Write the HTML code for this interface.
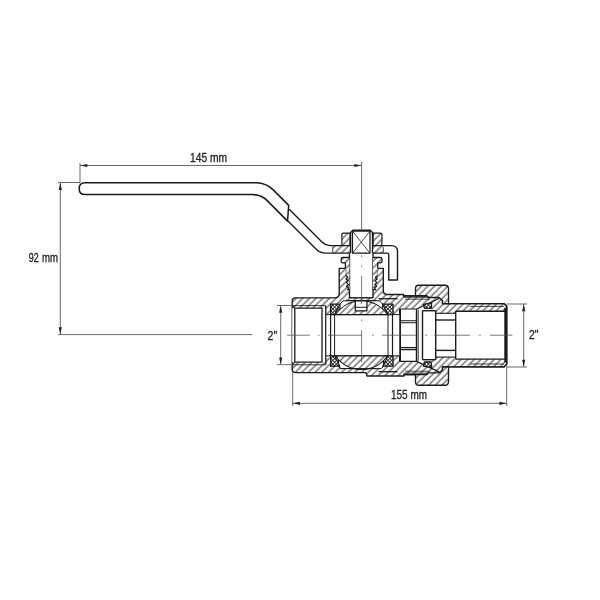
<!DOCTYPE html>
<html><head><meta charset="utf-8">
<style>
html,body{margin:0;padding:0;background:#fff;width:600px;height:600px;overflow:hidden}
svg{display:block;filter:grayscale(1)}
text{font-family:"Liberation Sans",sans-serif}
</style></head>
<body>
<svg width="600" height="600" viewBox="0 0 600 600" stroke-linejoin="round">
<defs>
<pattern id="h" width="4.7" height="10" patternUnits="userSpaceOnUse" patternTransform="rotate(45)">
<rect x="-1" y="-1" width="7" height="12" fill="#fff"/>
<line x1="2" y1="-1" x2="2" y2="11" stroke="#333" stroke-width="1.0"/>
</pattern>
<pattern id="x" width="2.6" height="2.6" patternUnits="userSpaceOnUse" patternTransform="rotate(45)">
<rect x="-1" y="-1" width="5" height="5" fill="#fff"/>
<line x1="1.3" y1="-1" x2="1.3" y2="3.6" stroke="#222" stroke-width="0.9"/>
<line x1="-1" y1="1.3" x2="3.6" y2="1.3" stroke="#222" stroke-width="0.9"/>
</pattern>
</defs>
<rect width="600" height="600" fill="#fff"/>
<path d="M292.2,300.8 Q292.2,297.8 295.2,297.8 H335 Q339.2,297.8 339.2,293.6 V268.3 H383.3 V290.5 Q383.3,294.5 387.3,294.5 H403.5 V296 H442.5 V303.6 H504.2 L506.7,306.3 V364.1 L504.2,366.8 H442.5 V374.5 H404 V376 H367 L366,372.6 H295.2 Q292.2,372.6 292.2,369.6 Z" fill="url(#h)" stroke="none" stroke-width="0" />
<path d="M345.4,268.3 H339.2 V293.6 Q339.2,297.8 335,297.8 H295.2 Q292.2,297.8 292.2,300.8 V369.6 Q292.2,372.6 295.2,372.6 H366 L367,376 H404 V374.5 H442.5 V366.8 H504.2 L506.7,364.1 V306.3 L504.2,303.6 H442.5 V296 H403.5 V294.5 H387.3 Q383.3,294.5 383.3,290.5 V268.3 H377.7" fill="none" stroke="#1a1a1a" stroke-width="1.35" />
<path d="M349.5,253.1 H373 V298 H349.5 Z" fill="#fff" stroke="none" stroke-width="0" />
<path d="M292.2,308.2 H325.8 V362.2 H292.2 Z" fill="#fff" stroke="none" stroke-width="0" />
<path d="M292.2,305.6 H325.8 M292.2,364.8 H325.8" fill="none" stroke="#1a1a1a" stroke-width="0.9" />
<path d="M292.2,305.6 L294.8,308.2 M292.2,364.8 L294.8,362.2" fill="none" stroke="#1a1a1a" stroke-width="1.1" />
<path d="M325.8,305.75 V364.65" fill="none" stroke="#1a1a1a" stroke-width="1.3" />
<path d="M294.8,362.2 V308.2 H322 V362.2 H294.8" fill="none" stroke="#1a1a1a" stroke-width="1.3" />
<path d="M325.8,314.6 H399.6 V355.8 H325.8 Z" fill="#fff" stroke="#1a1a1a" stroke-width="1.0" />
<path d="M340,304 L343,300.8 H379.5 L382.5,304 V314 H340 Z" fill="#fff" stroke="#1a1a1a" stroke-width="1.0" />
<path d="M338.5,356 V366.5 L341,368.6 H381 L383.5,366.5 V356 Z" fill="#fff" stroke="#1a1a1a" stroke-width="1.0" />
<path d="M335.4,314.6 A31.8,31.8 0 0 1 387.6,314.6 Z" fill="url(#h)" stroke="#1a1a1a" stroke-width="1.2" />
<path d="M 335.4,355.8 A 31.8,31.8 0 0 0 387.6,355.8 Z" fill="url(#h)" stroke="#1a1a1a" stroke-width="1.2" />
<path d="M355.3,300.8 H366.9 V310.8 H355.3 Z" fill="#fff" stroke="#1a1a1a" stroke-width="1.3" />
<path d="M355.3,307.3 H366.9" fill="none" stroke="#1a1a1a" stroke-width="1.0" />
<path d="M346,300.5 H376.5" fill="none" stroke="#1a1a1a" stroke-width="0.9" />
<path d="M349.5,297.8 H373" fill="none" stroke="#1a1a1a" stroke-width="1.4" />
<path d="M330.6,304.2 H339.8 L334.7,314.6 H330.6 Z" fill="url(#x)" stroke="#1a1a1a" stroke-width="1.2" />
<path d="M 330.6,366.2 H 339.8 L 334.7,355.8 H 330.6 Z" fill="url(#x)" stroke="#1a1a1a" stroke-width="1.2" />
<path d="M393.1,304.2 H382.6 L388,314.6 H393.1 Z" fill="url(#x)" stroke="#1a1a1a" stroke-width="1.2" />
<path d="M 393.1,366.2 H 382.6 L 388,355.8 H 393.1 Z" fill="url(#x)" stroke="#1a1a1a" stroke-width="1.2" />
<path d="M330.6,314.6 V303.8" fill="none" stroke="#1a1a1a" stroke-width="1.2" />
<path d="M 330.6,355.8 V 366.6" fill="none" stroke="#1a1a1a" stroke-width="1.2" />
<path d="M330.6,314.6 V355.8" fill="none" stroke="#1a1a1a" stroke-width="1.2" />
<path d="M334.6,314.6 V355.8" fill="none" stroke="#1a1a1a" stroke-width="1.0" />
<path d="M388,314.6 V355.8" fill="none" stroke="#1a1a1a" stroke-width="1.0" />
<path d="M392.5,314.6 V355.8" fill="none" stroke="#1a1a1a" stroke-width="1.2" />
<path d="M338.5,366.5 L341,368.6 H376" fill="none" stroke="#1a1a1a" stroke-width="1.0" />
<path d="M349.5,253.1 V298 M373,253.1 V298" fill="none" stroke="#1a1a1a" stroke-width="1.35" />
<path d="M341.25,259 Q341.25,257.5 342.75,257.5 H349.5 V289.6 H345.4 V262.9 H342.75 Q341.25,262.9 341.25,261.4 Z" fill="url(#h)" stroke="none" stroke-width="0" />
<path d="M381.9,259 Q381.9,257.5 380.4,257.5 H373 V289.6 H377.7 V262.9 H380.4 Q381.9,262.9 381.9,261.4 Z" fill="url(#h)" stroke="none" stroke-width="0" />
<path d="M345.4,268.3 V262.9 H342.75 Q341.25,262.9 341.25,261.4 V259 Q341.25,257.5 342.75,257.5 H349.5" fill="none" stroke="#1a1a1a" stroke-width="1.3" />
<path d="M377.7,268.3 V262.9 H380.4 Q381.9,262.9 381.9,261.4 V259 Q381.9,257.5 380.4,257.5 H373" fill="none" stroke="#1a1a1a" stroke-width="1.3" />
<path d="M345.6,275.5 L347.8,277.2 L346,279 L348.3,280.8 L346.3,282.6 L348.5,284.4 L346.5,286.2 L348.7,288 L347.5,289.6 H349.5" fill="none" stroke="#1a1a1a" stroke-width="1.2" />
<path d="M377.6,275.5 L375.4,277.2 L377.2,279 L374.9,280.8 L376.9,282.6 L374.7,284.4 L376.7,286.2 L374.5,288 L375.7,289.6 H373" fill="none" stroke="#1a1a1a" stroke-width="1.2" />
<path d="M346,270 V275.5 M377.2,270 V275.5" fill="none" stroke="#555" stroke-width="0.7" />
<path d="M341.9,234.6 Q341.9,233.1 343.4,233.1 H350 V245.6 H343.4 Q341.9,245.6 341.9,244.1 Z" fill="url(#h)" stroke="#1a1a1a" stroke-width="1.2" />
<path d="M381.9,234.6 Q381.9,233.1 380.4,233.1 H373.1 V245.6 H380.4 Q381.9,245.6 381.9,244.1 Z" fill="url(#h)" stroke="#1a1a1a" stroke-width="1.2" />
<path d="M333,245.6 H350 V253.1 H333 Z" fill="url(#h)" stroke="none" stroke-width="0" />
<path d="M373,245.6 H382.5 V253.1 H373 Z" fill="url(#h)" stroke="none" stroke-width="0" />
<path d="M350.6,253.1 V232.5 L352.8,230.25 H370.3 L372.5,232.5 V253.1" fill="#fff" stroke="#1a1a1a" stroke-width="1.35" />
<path d="M383,246.5 Q384,250 383,253" fill="none" stroke="#1a1a1a" stroke-width="0.8" />
<path d="M333,246.5 Q332,250 333,253" fill="none" stroke="#1a1a1a" stroke-width="0.8" />
<path d="M352.5,231.25 H370 V253.1 H352.5 Z" fill="#fff" stroke="#1a1a1a" stroke-width="1.2" />
<path d="M352.5,231.25 L370,253.1 M370,231.25 L352.5,253.1" fill="none" stroke="#1a1a1a" stroke-width="0.8" />
<path d="M256,182.5 H85 Q79.2,182.5 79.2,188.35 Q79.2,194.2 85,194.2 H252 Q261.2,194.2 267.5,200.5 L287.5,220.8 L288.7,205 L273.5,189.8 Q266.2,182.5 256,182.5 Z" fill="none" stroke="#1a1a1a" stroke-width="1.5" transform="translate(0,0.35)"/>
<path d="M289.2,209.2 L321.5,241.5 Q325.6,245.6 331.5,245.6 H350" fill="none" stroke="#1a1a1a" stroke-width="1.4" />
<path d="M288,221 L316.5,249.5 Q320.1,253.1 326,253.1 H350" fill="none" stroke="#1a1a1a" stroke-width="1.4" />
<path d="M373,245.6 H391.5 Q397.5,245.6 397.5,251.6 V280 H388.75 V255 Q388.75,253.1 386.85,253.1 H373" fill="none" stroke="#1a1a1a" stroke-width="1.4" />
<path d="M399.6,313.3 V309 H416.7 L423.3,304.4 L431.7,302.8 V310.7 H435.7 V313.3 H455.7 V311.3 H505.2 V335.2 H399.6 Z" fill="#fff" stroke="none" stroke-width="0" />
<path d="M 399.6,357.1 V 361.4 H 416.7 L 423.3,366 L 431.7,367.6 V 359.7 H 435.7 V 357.1 H 455.7 V 359.1 H 505.2 V 335.2 H 399.6 Z" fill="#fff" stroke="none" stroke-width="0" />
<path d="M399.6,314.6 V309 H416.7 L439.5,298.3" fill="none" stroke="#1a1a1a" stroke-width="1.2" />
<path d="M 399.6,355.8 V 361.4 H 416.7 L 439.5,372.1" fill="none" stroke="#1a1a1a" stroke-width="1.2" />
<path d="M400.3,309 V361.4" fill="none" stroke="#1a1a1a" stroke-width="1.4" />
<path d="M416.5,309 V361.4" fill="none" stroke="#1a1a1a" stroke-width="1.4" />
<path d="M418.2,309.6 V360.8" fill="none" stroke="#1a1a1a" stroke-width="0.9" />
<path d="M400.3,320.8 H416.5 M400.3,322.8 H416.5" fill="none" stroke="#1a1a1a" stroke-width="1.1" />
<path d="M 400.3,349.6 H 416.5 M 400.3,347.6 H 416.5" fill="none" stroke="#1a1a1a" stroke-width="1.1" />
<path d="M422.5,310.7 V359.7 M435.7,310.7 V359.7" fill="none" stroke="#1a1a1a" stroke-width="1.4" />
<path d="M422.5,310.7 H435.7" fill="none" stroke="#1a1a1a" stroke-width="1.4" />
<path d="M 422.5,359.7 H 435.7" fill="none" stroke="#1a1a1a" stroke-width="1.4" />
<path d="M435.7,313.3 H455.7" fill="none" stroke="#1a1a1a" stroke-width="1.1" />
<path d="M 435.7,357.1 H 455.7" fill="none" stroke="#1a1a1a" stroke-width="1.1" />
<path d="M435.7,320 H455.7" fill="none" stroke="#1a1a1a" stroke-width="1.4" />
<path d="M 435.7,350.4 H 455.7" fill="none" stroke="#1a1a1a" stroke-width="1.4" />
<path d="M455.7,311.3 V359.1" fill="none" stroke="#1a1a1a" stroke-width="1.4" />
<path d="M455.7,311.3 H505.2" fill="none" stroke="#1a1a1a" stroke-width="1.4" />
<path d="M 455.7,359.1 H 505.2" fill="none" stroke="#1a1a1a" stroke-width="1.4" />
<path d="M505.2,308 V362.4" fill="none" stroke="#1a1a1a" stroke-width="1.8" />
<path d="M470,306.4 H504" fill="none" stroke="#1a1a1a" stroke-width="0.8" />
<path d="M 470,364 H 504" fill="none" stroke="#1a1a1a" stroke-width="0.8" />
<path d="M423.3,304.4 L431.7,302.8 L431.2,308.4 H424.5 Z" fill="url(#x)" stroke="#1a1a1a" stroke-width="1.3" />
<path d="M 423.3,366 L 431.7,367.6 L 431.2,362 H 424.5 Z" fill="url(#x)" stroke="#1a1a1a" stroke-width="1.3" />
<path d="M415.5,295.75 V288.5 Q415.5,285.2 418.8,285.2 H444.8 Q448.5,285.2 448.5,289 V303.6 H442.5 V300.5 L439,297.5 H428.5 L427,295.75 Z" fill="url(#h)" stroke="#1a1a1a" stroke-width="1.35" />
<path d="M 415.5,374.65 V 381.9 Q 415.5,385.2 418.8,385.2 H 444.8 Q 448.5,385.2 448.5,381.4 V 366.8 H 442.5 V 369.9 L 439,372.9 H 428.5 L 427,374.65 Z" fill="url(#h)" stroke="#1a1a1a" stroke-width="1.35" />
<path d="M403.3,295.75 H415.5" fill="none" stroke="#1a1a1a" stroke-width="1.3" />
<path d="M 403.3,374.65 H 415.5" fill="none" stroke="#1a1a1a" stroke-width="1.3" />
<path d="M378.5,298.7 H397.5" fill="none" stroke="#1a1a1a" stroke-width="1.3" />
<path d="M 378.5,371.7 H 397.5" fill="none" stroke="#1a1a1a" stroke-width="1.3" />
<path d="M403.5,297.3 H428.5" fill="none" stroke="#1a1a1a" stroke-width="0.8" />
<path d="M 403.5,373.1 H 428.5" fill="none" stroke="#1a1a1a" stroke-width="0.8" />
<path d="M405,299.2 H430" fill="none" stroke="#1a1a1a" stroke-width="0.8" />
<path d="M 405,371.2 H 430" fill="none" stroke="#1a1a1a" stroke-width="0.8" />
<path d="M442.5,303.6 H504.2 L506.7,306.3 V335.2" fill="none" stroke="#1a1a1a" stroke-width="1.35" />
<path d="M 442.5,366.8 H 504.2 L 506.7,364.1 V 335.2" fill="none" stroke="#1a1a1a" stroke-width="1.35" />
<g stroke="#555" stroke-width="0.8" fill="none"><path d="M287,335.2 H310 M318,335.2 H319.5 M328,335.2 H362 M372,335.2 H373.5 M382,335.2 H416 M425.5,335.2 H427 M434,335.2 H470 M479.3,335.2 H480.8 M490,335.2 H512.5"/><path d="M361.6,255.5 V257 M361.6,265.5 V267 M361.6,276 V304 M361.6,319.5 V321 M361.6,330 V362"/></g>
<line x1="80" y1="163" x2="80" y2="183.5" stroke="#6a6a6a" stroke-width="1.0"/>
<line x1="80" y1="165.5" x2="361.6" y2="165.5" stroke="#6a6a6a" stroke-width="1.0"/>
<line x1="58" y1="182.5" x2="80" y2="182.5" stroke="#6a6a6a" stroke-width="1.0"/>
<line x1="60.3" y1="182.5" x2="60.3" y2="334.6" stroke="#6a6a6a" stroke-width="1.0"/>
<line x1="58" y1="334.6" x2="252" y2="334.6" stroke="#6a6a6a" stroke-width="1.0"/>
<line x1="280.7" y1="305.5" x2="280.7" y2="364.7" stroke="#6a6a6a" stroke-width="1.0"/>
<line x1="277" y1="305.5" x2="292" y2="305.5" stroke="#6a6a6a" stroke-width="1.0"/>
<line x1="277" y1="364.7" x2="292" y2="364.7" stroke="#6a6a6a" stroke-width="1.0"/>
<line x1="523.7" y1="304" x2="523.7" y2="367" stroke="#6a6a6a" stroke-width="1.0"/>
<line x1="506.5" y1="304" x2="527" y2="304" stroke="#6a6a6a" stroke-width="1.0"/>
<line x1="506.5" y1="367" x2="527" y2="367" stroke="#6a6a6a" stroke-width="1.0"/>
<line x1="292.7" y1="373" x2="292.7" y2="406" stroke="#6a6a6a" stroke-width="1.0"/>
<line x1="506.7" y1="366" x2="506.7" y2="406" stroke="#6a6a6a" stroke-width="1.0"/>
<line x1="292.7" y1="403.3" x2="506.7" y2="403.3" stroke="#6a6a6a" stroke-width="1.0"/>
<line x1="361.6" y1="162" x2="361.6" y2="230.5" stroke="#6a6a6a" stroke-width="1.0"/>
<path d="M80.3,165.5 L87.30,163.90 L87.30,167.10 Z" fill="#222"/>
<path d="M361.3,165.5 L354.30,167.10 L354.30,163.90 Z" fill="#222"/>
<path d="M60.3,183 L61.90,190.00 L58.70,190.00 Z" fill="#222"/>
<path d="M60.3,334.3 L58.70,327.30 L61.90,327.30 Z" fill="#222"/>
<path d="M280.7,305.8 L282.30,312.80 L279.10,312.80 Z" fill="#222"/>
<path d="M280.7,364.4 L279.10,357.40 L282.30,357.40 Z" fill="#222"/>
<path d="M523.7,304.3 L525.30,311.30 L522.10,311.30 Z" fill="#222"/>
<path d="M523.7,366.7 L522.10,359.70 L525.30,359.70 Z" fill="#222"/>
<path d="M293,403.3 L300.00,401.70 L300.00,404.90 Z" fill="#222"/>
<path d="M506.4,403.3 L499.40,404.90 L499.40,401.70 Z" fill="#222"/>
<g font-size="12" fill="#222" stroke="#222" stroke-width="0.3"><text x="190" y="161.7" textLength="37" lengthAdjust="spacingAndGlyphs">145 mm</text><text x="28.75" y="261.5" textLength="10" lengthAdjust="spacingAndGlyphs">92</text><text x="42" y="261.5" textLength="16" lengthAdjust="spacingAndGlyphs">mm</text><text x="391" y="399" textLength="36" lengthAdjust="spacingAndGlyphs">155 mm</text><text x="267.6" y="340" textLength="9.6" lengthAdjust="spacingAndGlyphs">2"</text><text x="529" y="338.7" textLength="9.5" lengthAdjust="spacingAndGlyphs">2"</text></g>
</svg>
</body></html>
